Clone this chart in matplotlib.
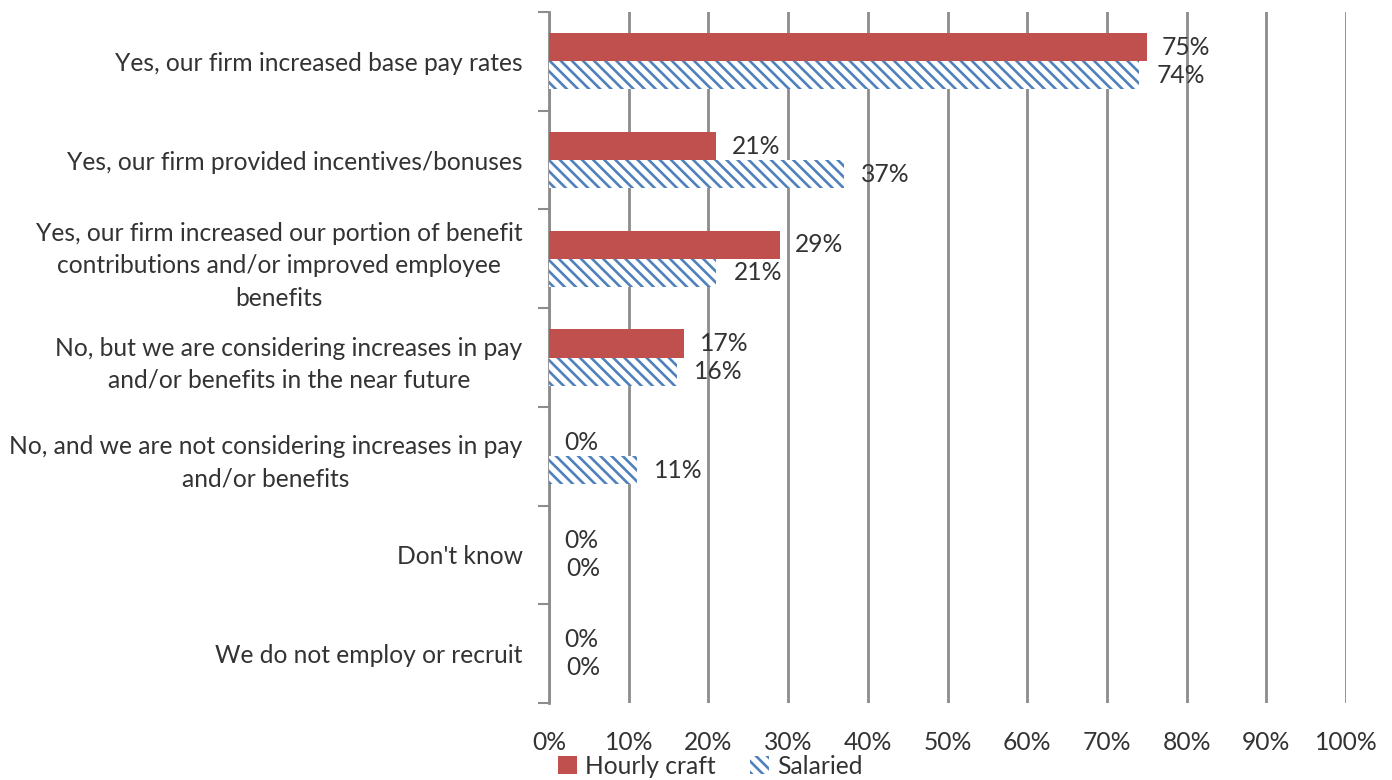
import numpy as np
import matplotlib.pyplot as plt
from matplotlib.patches import Patch

plt.rcParams['font.family'] = ['Lato', 'DejaVu Sans']
plt.rcParams['hatch.linewidth'] = 1.9

categories = [
    "Yes, our firm increased base pay rates",
    "Yes, our firm provided incentives/bonuses",
    "Yes, our firm increased our portion of benefit\ncontributions and/or improved employee\nbenefits",
    "No, but we are considering increases in pay\nand/or benefits in the near future",
    "No, and we are not considering increases in pay\nand/or benefits",
    "Don't know",
    "We do not employ or recruit",
]
hourly = [75, 21, 29, 17, 0, 0, 0]
salaried = [74, 37, 21, 16, 11, 0, 0]

red = '#C0504D'
blue = '#4F81BD'
txt = '#333333'
grid = '#8C8C8C'
fs = 17.7

fig = plt.figure(figsize=(13.92, 7.80), dpi=100)
ax = fig.add_axes([549 / 1392, 1 - 703 / 780, 797 / 1392, 691 / 780])

y = np.arange(len(categories))
h = 0.285
ax.barh(y - h / 2, hourly, height=h, color=red, zorder=3)
ax.barh(y + h / 2, salaried, height=h, facecolor='white', edgecolor=blue,
        hatch='\\\\\\', linewidth=0, zorder=3)

for i in range(len(categories)):
    ax.text(hourly[i] + 1.9, y[i] - h / 2, f"{hourly[i]}%", va='center',
            ha='left', fontsize=fs, color=txt, zorder=4)
    ax.text(salaried[i] + 2.2, y[i] + h / 2, f"{salaried[i]}%", va='center',
            ha='left', fontsize=fs, color=txt, zorder=4)

ax.set_xlim(0, 100)
ax.set_ylim(len(categories) - 0.5, -0.5)
ax.set_xticks(np.arange(0, 101, 10))
ax.set_xticklabels([f"{v}%" for v in range(0, 101, 10)], fontsize=fs, color=txt)
ax.tick_params(axis='x', length=0, pad=20)

ax.set_yticks(y)
ax.set_yticklabels(categories, fontsize=fs, color=txt, linespacing=1.5,
                   ha='right', multialignment='center')
ax.tick_params(axis='y', length=0, pad=19)
ax.set_yticks(np.arange(-0.5, len(categories), 1), minor=True)
ax.tick_params(axis='y', which='minor', length=8, width=1.5, color=grid)

ax.xaxis.grid(True, color=grid, linewidth=2, zorder=0)
ax.set_axisbelow(True)
for s in ['top', 'right', 'bottom']:
    ax.spines[s].set_visible(False)
ax.spines['left'].set_color(grid)
ax.spines['left'].set_linewidth(2)

handles = [Patch(facecolor=red, label='Hourly craft'),
           Patch(facecolor='white', edgecolor=blue, hatch='\\\\\\', linewidth=0, label='Salaried')]
fig.legend(handles=handles, loc='center', bbox_to_anchor=(710 / 1392, 1 - 766 / 780),
           ncol=2, frameon=False, fontsize=fs, handlelength=0.8, handleheight=0.8,
           handletextpad=0.3, columnspacing=1.4, labelcolor=txt)

fig.savefig('out.png', dpi=100)
